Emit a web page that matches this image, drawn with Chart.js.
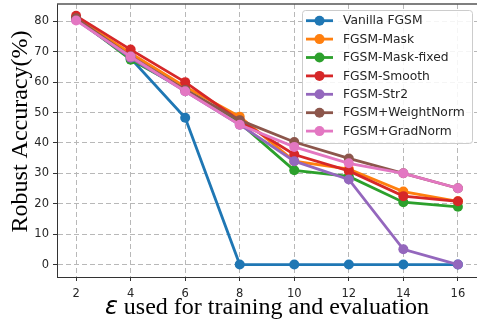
<!DOCTYPE html>
<html>
<head>
<meta charset="utf-8">
<script src="https://cdn.jsdelivr.net/npm/chart.js@4/dist/chart.umd.min.js"></script>
<style>
  html, body { margin: 0; padding: 0; background: #fff; }
  #wrap { width: 477px; height: 321px; position: relative; }
</style>
</head>
<body>
<div id="wrap"><canvas id="c" width="477" height="321"></canvas></div>
<script>
// Perturbation budgets (x axis)
const epsilons = [2, 4, 6, 8, 10, 12, 14, 16];

// Robust accuracy (%) for each training method
const vanillaFGSM   = [80.8, 67.8, 48.3, 0, 0, 0, 0, 0];
const fgsmMask      = [81.0, 69.5, 58.5, 48.6, 34.0, 31.4, 24.0, 20.8];
const fgsmMaskFixed = [81.0, 67.4, 57.5, 46.6, 31.0, 29.0, 20.5, 19.0];
const fgsmSmooth    = [81.8, 70.7, 60.0, 47.3, 36.2, 30.8, 22.5, 20.8];
const fgsmStr2      = [80.5, 68.0, 57.0, 46.0, 34.0, 28.0, 5.0, 0.0];
const fgsmWeightNorm= [81.0, 68.5, 57.5, 47.5, 40.3, 34.9, 30.0, 25.1];
const fgsmGradNorm  = [80.3, 68.4, 57.0, 46.0, 38.7, 33.3, 30.0, 25.1];

const seriesNames = ['Vanilla FGSM', 'FGSM-Mask', 'FGSM-Mask-fixed', 'FGSM-Smooth',
                     'FGSM-Str2', 'FGSM+WeightNorm', 'FGSM+GradNorm'];
const seriesValues = [vanillaFGSM, fgsmMask, fgsmMaskFixed, fgsmSmooth,
                      fgsmStr2, fgsmWeightNorm, fgsmGradNorm];
const seriesColors = ['#1f77b4', '#ff7f0e', '#2ca02c', '#d62728',
                      '#9467bd', '#8c564b', '#e377c2'];

// Tick labels
const xTicks = [2, 4, 6, 8, 10, 12, 14, 16];
const yTicks = [0, 10, 20, 30, 40, 50, 60, 70, 80];

const yTitle = 'Robust Accuracy(%)';
const xTitleSymbol = 'ε';
const xTitleRest = ' used for training and evaluation';

const datasets = seriesNames.map((name, i) => ({
  label: name,
  data: epsilons.map((e, j) => ({ x: e, y: seriesValues[i][j] })),
  borderColor: seriesColors[i],
  backgroundColor: seriesColors[i],
  borderWidth: 2.8,
  pointRadius: 5,
  pointHoverRadius: 5,
  pointBorderWidth: 0,
  tension: 0,
  clip: false,
  // later series are painted over earlier ones
  order: -i
}));

// Top frame line, axis titles and the boxed legend
const decorations = {
  id: 'decorations',
  afterDraw(chart) {
    const { ctx, chartArea: a } = chart;
    ctx.save();
    // top spine
    ctx.strokeStyle = '#555';
    ctx.lineWidth = 1.3;
    ctx.beginPath();
    ctx.moveTo(a.left, a.top);
    ctx.lineTo(chart.width, a.top);
    ctx.stroke();

    // y title
    ctx.fillStyle = '#000';
    ctx.font = '24px "Liberation Serif"';
    ctx.textAlign = 'center';
    ctx.textBaseline = 'alphabetic';
    ctx.save();
    ctx.translate(26.5, 131.5);
    ctx.rotate(-Math.PI / 2);
    ctx.fillText(yTitle, 0, 0);
    ctx.restore();

    // x title: italic epsilon followed by serif text
    const symFont = 'italic 24px "DejaVu Sans"';
    const restFont = '24px "Liberation Serif"';
    ctx.font = symFont;
    const w1 = ctx.measureText(xTitleSymbol).width;
    ctx.font = restFont;
    const w2 = ctx.measureText(xTitleRest).width;
    const x0 = (a.left + a.right) / 2 - (w1 + w2) / 2;
    ctx.textAlign = 'left';
    ctx.font = symFont;
    ctx.fillText(xTitleSymbol, x0, 314);
    ctx.font = restFont;
    ctx.fillText(xTitleRest, x0 + w1, 314);

    // legend
    const lx = 302, ly = 10, lw = 170, lh = 133;
    ctx.beginPath();
    ctx.roundRect(lx + 0.5, ly + 0.5, lw, lh, 3);
    ctx.fillStyle = 'rgba(255,255,255,0.85)';
    ctx.fill();
    ctx.strokeStyle = '#cccccc';
    ctx.lineWidth = 1;
    ctx.stroke();
    ctx.font = '12.3px "DejaVu Sans"';
    ctx.textBaseline = 'middle';
    chart.data.datasets.forEach((ds, i) => {
      const ry = 20.7 + i * 18.4;
      ctx.strokeStyle = ds.borderColor;
      ctx.lineWidth = 2.8;
      ctx.beginPath();
      ctx.moveTo(306, ry);
      ctx.lineTo(333, ry);
      ctx.stroke();
      ctx.fillStyle = ds.borderColor;
      ctx.beginPath();
      ctx.arc(319.5, ry, 5, 0, Math.PI * 2);
      ctx.fill();
      ctx.fillStyle = '#262626';
      ctx.fillText(ds.label, 343, ry + 0.5);
    });
    ctx.restore();
  }
};

const tickFont = { family: '"DejaVu Sans"', size: 11.5 };

function noPadding(s) {
  s.paddingLeft = 0; s.paddingRight = 0; s.paddingTop = 0; s.paddingBottom = 0;
}

new Chart(document.getElementById('c'), {
  type: 'line',
  data: { datasets },
  options: {
    responsive: false,
    animation: false,
    devicePixelRatio: 1,
    layout: { autoPadding: false, padding: { top: 4, right: 0, left: 0, bottom: 0 } },
    plugins: { legend: { display: false }, tooltip: { enabled: false } },
    scales: {
      x: {
        type: 'linear',
        min: 1.3,
        max: 16.7,
        afterBuildTicks: s => { s.ticks = xTicks.map(v => ({ value: v })); },
        afterFit: s => { s.height = 44; noPadding(s); },
        ticks: { font: tickFont, color: '#262626', padding: 6, maxRotation: 0,
                 callback: v => String(v) },
        grid: { color: '#b8b8b8', lineWidth: 1, tickLength: 4, tickColor: '#333',
                tickWidth: 1, tickBorderDash: [] },
        border: { color: '#333', width: 1, dash: [5, 3] }
      },
      y: {
        type: 'linear',
        min: -4.1,
        max: 85.7,
        afterBuildTicks: s => { s.ticks = yTicks.map(v => ({ value: v })); },
        afterFit: s => { s.width = 57; noPadding(s); },
        ticks: { font: tickFont, color: '#262626', padding: 4,
                 callback: v => String(v) },
        grid: { color: '#b8b8b8', lineWidth: 1, tickLength: 4, tickColor: '#333',
                tickWidth: 1, tickBorderDash: [] },
        border: { color: '#333', width: 1, dash: [5, 3] }
      }
    }
  },
  plugins: [decorations]
});
</script>
</body>
</html>
